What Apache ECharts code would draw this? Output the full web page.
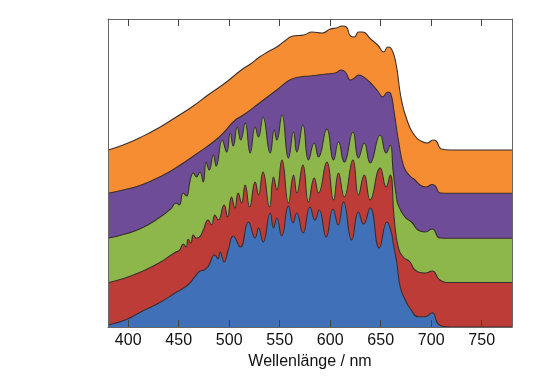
<!DOCTYPE html>
<html>
<head>
<meta charset="utf-8">
<script src="https://cdn.jsdelivr.net/npm/echarts@6/dist/echarts.min.js"></script>
<style>
html,body{margin:0;padding:0;background:#fff;}
#chart{width:540px;height:385px;}
</style>
</head>
<body>
<div id="chart"></div>
<script>
// x tick labels (nm)
const xTicks = [400, 450, 500, 550, 600, 650, 700, 750];

// upper boundary of each layer, [wavelength nm, value]
const orangeTop = [[380,177],[395,182],[413,190],[430,199],[446,209],[463,220],[479,232],[496,244],[512,257],[521,263],[530,270],[538,275],[547,280],[555,286],[563,291],[574,292],[582,295],[592,294],[600,298],[606,299],[612,301],[616,300],[620,291],[624,290],[628,295],[632,295],[640,288],[647,282],[653,275],[657,280],[660,279],[665,264],[670,230],[676,207],[684,191],[690,186],[696,184],[702,187],[705,186],[710,178],[720,177],[780,177]];

const purpleTop = [[380,133.7],[395,137],[413,142],[435,152],[450,161],[466,172],[489,189],[506,207],[514,212],[530,224],[547,237],[560,247],[570,250],[580,251],[596,253],[605,254],[611,257],[615,255],[620,247],[624,249],[628,252],[633,250],[639,245],[647,236],[652,230],[657,235],[660,233],[663,217],[668,184],[673,160],[679,151],[684,147],[689,142],[695,140],[701,142.5],[704,141],[709,134],[720,133.7],[780,133.7]];

const greenTop = [[380,88.7],[397,93],[413,98.7],[430,108.7],[442,118],[447.5,124],[450.5,122],[454.5,134],[457.7,131],[461.4,147],[464.4,154],[467.6,150],[471,155],[474.3,145],[477.2,165],[480.2,157],[484.3,172],[487.1,161],[493.1,187],[497.5,175],[501,194],[504,181],[508,200],[511.4,187],[515.8,204],[520.8,174],[525.7,200],[529,190],[533.4,210],[540.6,174],[544.6,197],[547.2,187],[552.2,212],[558.7,169],[563.7,195],[567,175],[573,202],[578.5,167],[584.2,184],[588.4,170],[596.7,198],[603.3,167],[608.2,185],[613.9,165],[622.5,195],[628,169],[633.7,184],[639.6,164],[649.5,192],[655.4,174],[659.4,182],[662.4,155],[665.3,132],[667.3,122],[674,110],[680.5,105],[687,97],[694,95],[701,98],[708.6,89],[720,88.7],[780,88.7]];

const redTop = [[380,44.3],[397,49],[413,55.3],[430,63.7],[446,74.3],[451,77],[454.5,83],[457.4,80],[459.4,87.7],[462,84],[464.4,92],[467.6,88.7],[471,90.3],[474.3,97],[479.2,107],[482.5,102],[485.8,112],[489.1,107],[495,122],[498.3,110],[502.3,130],[505.6,119],[508.9,134],[512.2,124],[515.8,142],[520.2,120],[525.7,145],[529,132],[533.4,155],[539.9,120],[543.9,150],[547.2,137],[552.2,167],[558.7,124],[563.7,152],[567,134],[573,162],[578.5,125],[584.2,149],[588.4,134],[596.7,165],[603.3,127],[608.2,154],[613.9,130],[622.5,167],[628,132],[633.7,152],[639.6,127],[649.5,159],[655.4,140],[659.4,152],[663.5,107],[667.3,80],[672.3,70],[679,65],[684,57],[694,54],[701,56],[708.6,47],[719,44.5],[780,44.5]];

const blueTop = [[380,2],[397,7],[413,15.3],[430,23.7],[446,33.7],[459,42],[466,50.3],[471,56],[475,57],[479,60.3],[485.8,72],[489,68],[491,75],[495,65],[499,77],[504,91],[511,80],[519,105],[525.7,89],[529,99],[533.6,85],[540.6,114],[543.9,99],[547.1,109],[552,91],[558.6,121],[563.2,104],[566.8,114],[573.1,94],[580,120],[584.9,107],[589.1,117],[596,90],[602.8,118],[607.9,102],[613.1,125],[621.3,87],[627.9,115],[633,103],[639.6,119],[648.5,79],[656.2,105],[660.4,95],[662.4,84],[666,64],[669.3,40],[674.3,27],[680.2,17],[687,10.3],[694,10.3],[701,14.3],[706.4,3.7],[712,0.5],[720,0],[780,0]];

const layers = [
  {name:'orange', data: orangeTop, color:'#F68D33'},
  {name:'purple', data: purpleTop, color:'#6F4C98'},
  {name:'green',  data: greenTop,  color:'#8DB74A'},
  {name:'red',    data: redTop,    color:'#BE3C37'},
  {name:'blue',   data: blueTop,   color:'#4070B8'}
];

const chart = echarts.init(document.getElementById('chart'), null, {renderer:'canvas'});
const font = 'Liberation Sans, Arial, sans-serif';
const axisCol = '#666';

chart.setOption({
  animation: false,
  grid: {left:108, right:28, top:19, bottom:58, show:false},
  xAxis: [{
    type:'value', min:380, max:780, position:'bottom', z:10,
    axisLine:{show:true, onZero:false, lineStyle:{color:axisCol, width:1}},
    axisTick:{show:true, inside:true, length:7, customValues:xTicks, lineStyle:{color:'#444'}},
    axisLabel:{customValues:xTicks, fontSize:16, color:'#111', margin:6, fontFamily:font},
    splitLine:{show:false},
    name:'Wellenlänge / nm', nameLocation:'middle', nameGap:24,
    nameTextStyle:{fontSize:16, color:'#111', fontFamily:font}
  },{
    type:'value', min:380, max:780, position:'top', z:10,
    axisLine:{show:true, onZero:false, lineStyle:{color:axisCol, width:1}},
    axisTick:{show:true, inside:true, length:7, customValues:xTicks, lineStyle:{color:'#444'}},
    axisLabel:{show:false},
    splitLine:{show:false}
  }],
  yAxis: [{
    type:'value', min:0, max:308, position:'left', z:10,
    axisLine:{show:true, onZero:false, lineStyle:{color:axisCol, width:1}},
    axisTick:{show:false}, axisLabel:{show:false}, splitLine:{show:false}
  },{
    type:'value', min:0, max:308, position:'right', z:10,
    axisLine:{show:true, onZero:false, lineStyle:{color:axisCol, width:1}},
    axisTick:{show:false}, axisLabel:{show:false}, splitLine:{show:false}
  }],
  series: layers.map((l, i) => ({
    name: l.name,
    type: 'line',
    xAxisIndex: 0,
    yAxisIndex: 0,
    data: l.data,
    z: 2 + i,
    symbol: 'none',
    showSymbol: false,
    smooth: 0.5,
    lineStyle: {width: 1.1, color: '#3a2e2e'},
    areaStyle: {color: l.color, opacity: 1, origin: 'start'}
  }))
});
</script>
</body>
</html>
